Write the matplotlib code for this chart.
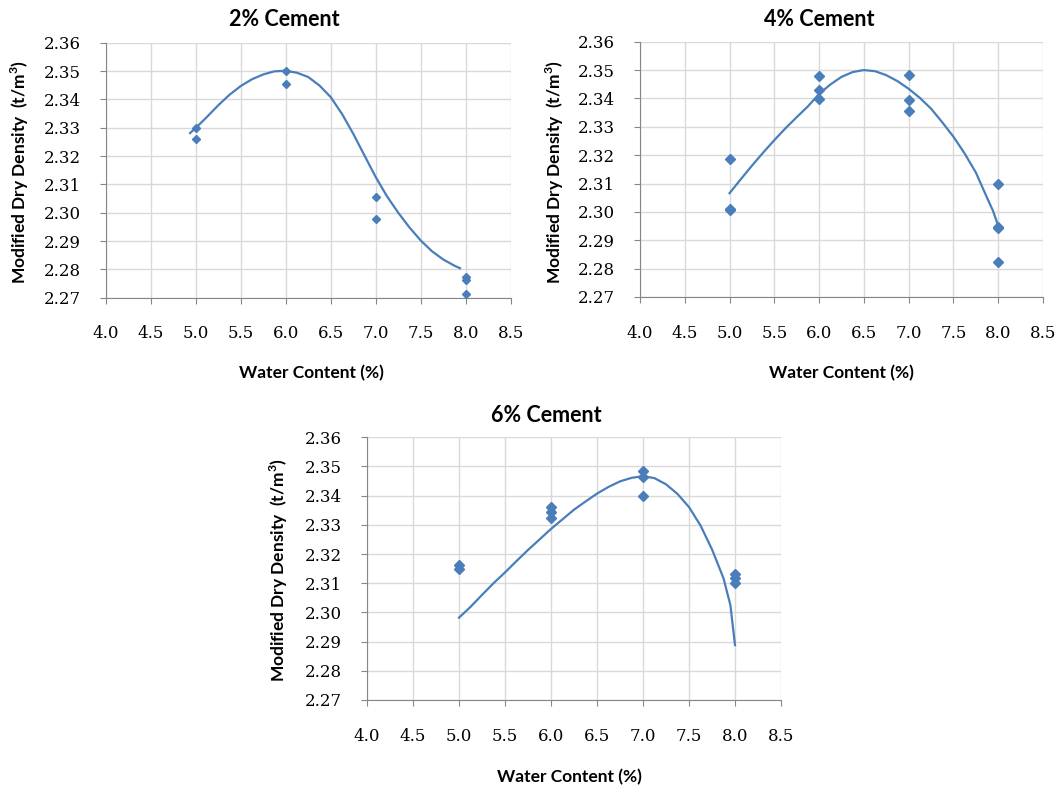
import matplotlib
matplotlib.use("Agg")
from matplotlib import pyplot as plt
import numpy as np

# measured points: water content (%) vs modified dry density (t/m3)
x_2 = [5.0, 5.0, 6.0, 6.0, 7.0, 7.0, 8.0, 8.0, 8.0]
y_2 = [2.3298, 2.3259, 2.3501, 2.3453, 2.3054, 2.2976, 2.2774, 2.2764, 2.2713]

x_4 = [5.0, 5.0, 5.0, 6.0, 6.0, 6.0, 7.0, 7.0, 7.0, 8.0, 8.0, 8.0, 8.0]
y_4 = [2.3185, 2.3010, 2.3006, 2.3479, 2.3429, 2.3399, 2.3482, 2.3394, 2.3355,
       2.3100, 2.2948, 2.2942, 2.2823]

x_6 = [5.0, 5.0, 6.0, 6.0, 6.0, 7.0, 7.0, 7.0, 8.0, 8.0, 8.0]
y_6 = [2.3162, 2.3149, 2.3361, 2.3344, 2.3324, 2.3483, 2.3464, 2.3399,
       2.3132, 2.3117, 2.3102]

# trend lines
trend_x_2 = [4.937, 5.0, 5.125, 5.25, 5.375, 5.5, 5.625, 5.75, 5.875, 6.0, 6.125,
             6.25, 6.375, 6.5, 6.625, 6.75, 6.875, 7.0, 7.125, 7.25, 7.375, 7.5,
             7.625, 7.75, 7.875, 7.937]
trend_y_2 = [2.3281, 2.3299, 2.3338, 2.3379, 2.3416, 2.3447, 2.3471, 2.3488, 2.3499,
             2.3501, 2.3494, 2.3479, 2.3449, 2.3408, 2.3349, 2.3279, 2.3202, 2.3126,
             2.3058, 2.3000, 2.2948, 2.2902, 2.2864, 2.2835, 2.2813, 2.2804]

trend_x_4 = [5.0, 5.125, 5.25, 5.375, 5.5, 5.625, 5.75, 5.875, 6.0, 6.125, 6.25,
             6.375, 6.5, 6.625, 6.75, 6.875, 7.0, 7.125, 7.25, 7.375, 7.5, 7.625,
             7.75, 7.875, 7.94, 8.0]
trend_y_4 = [2.3066, 2.3115, 2.3163, 2.3209, 2.3253, 2.3295, 2.3334, 2.3372, 2.3416,
             2.3449, 2.3476, 2.3493, 2.3500, 2.3496, 2.3482, 2.3461, 2.3434, 2.3402,
             2.3364, 2.3316, 2.3265, 2.3206, 2.3139, 2.3050, 2.3005, 2.2951]

trend_x_6 = [5.0, 5.125, 5.25, 5.375, 5.5, 5.625, 5.75, 5.875, 6.0, 6.125, 6.25,
             6.375, 6.5, 6.625, 6.75, 6.875, 7.0, 7.125, 7.25, 7.375, 7.5, 7.625,
             7.75, 7.875, 7.95, 8.0]
trend_y_6 = [2.2982, 2.3019, 2.3060, 2.3100, 2.3137, 2.3176, 2.3214, 2.3250, 2.3286,
             2.3319, 2.3352, 2.3380, 2.3407, 2.3430, 2.3449, 2.3461, 2.3467, 2.3460,
             2.3439, 2.3406, 2.3361, 2.3298, 2.3216, 2.3117, 2.3025, 2.2888]

titles = ["2% Cement", "4% Cement", "6% Cement"]

W, H = 1059, 786
blue = '#4A7EBB'
grey = '#868686'
grid = '#D9D9D9'

fig = plt.figure(figsize=(W / 100, H / 100), dpi=100)


def box(l, t, r, b):
    return [l / W, 1 - b / H, (r - l) / W, (b - t) / H]


def label(x, y, s, size, rot=0):
    fig.text(x / W, 1 - y / H, s, ha='center', va='center', rotation=rot,
             fontsize=size, fontweight='bold', family='Lato')


panels = [
    (box(105.7, 42.7, 510.7, 297.7), x_2, y_2, trend_x_2, trend_y_2, 3.6,
     (284, 20), (20, 172), (311, 373)),
    (box(640, 41.7, 1043, 297), x_4, y_4, trend_x_4, trend_y_4, 5.2,
     (819, 20), (555, 172), (841, 373)),
    (box(367, 437.3, 781, 700), x_6, y_6, trend_x_6, trend_y_6, 5.2,
     (546, 415), (279, 570), (569, 777)),
]

for i, (rect, xs, ys, tx, ty, ms, tpos, ypos, xpos) in enumerate(panels):
    ax = fig.add_axes(rect)
    ax.plot(tx, ty, color=blue, lw=1.6, zorder=3, solid_joinstyle='round')
    ax.plot(xs, ys, 'D', color=blue, ms=ms, mec=blue, zorder=4)
    ax.set_xlim(4.0, 8.5)
    ax.set_ylim(2.27, 2.36)
    ax.set_xticks(np.arange(4.0, 8.51, 0.5))
    ax.set_yticks(np.arange(2.27, 2.3651, 0.01))
    ax.set_xticklabels(['%.1f' % v for v in np.arange(4.0, 8.51, 0.5)])
    ax.set_yticklabels(['%.2f' % v for v in np.arange(2.27, 2.3651, 0.01)])
    ax.grid(True, color=grid, lw=1)
    ax.set_axisbelow(True)
    for s in ['top', 'right']:
        ax.spines[s].set_visible(False)
    for s in ['left', 'bottom']:
        ax.spines[s].set_color(grey)
    ax.tick_params(axis='x', length=4, color=grey, pad=16, labelsize=12)
    ax.tick_params(axis='y', length=4, color=grey, pad=14, labelsize=12)
    for t in ax.get_xticklabels() + ax.get_yticklabels():
        t.set_family('DejaVu Serif')
    label(tpos[0], tpos[1], titles[i], 15.5)
    label(ypos[0], ypos[1], 'Modified Dry Density  (t/m$^\\mathregular{3}$)', 12.5, rot=90)
    label(xpos[0], xpos[1], 'Water Content (%)', 12.5)

fig.savefig('out.png', dpi=100)
